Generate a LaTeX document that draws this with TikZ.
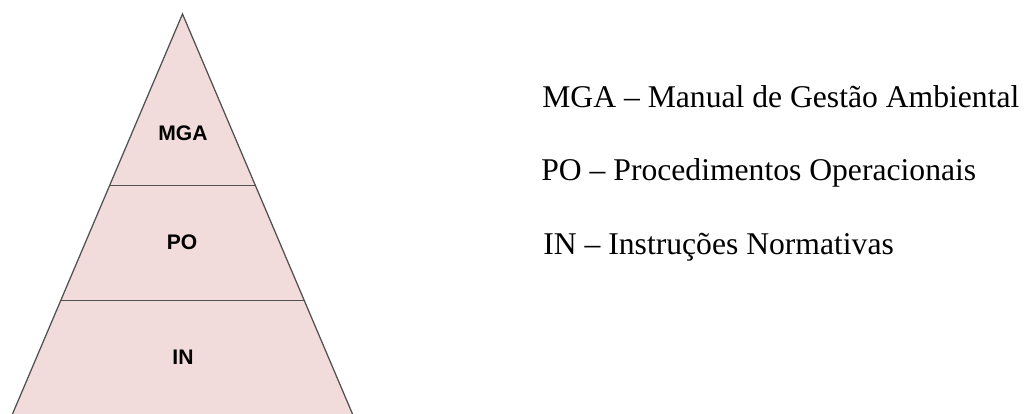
\documentclass[tikz,border=0pt]{standalone}
\usepackage{fontspec}
\setmainfont{Liberation Serif}
\setsansfont{Liberation Sans}
\usepackage{xcolor}
\usetikzlibrary{calc}
\definecolor{pyrfill}{HTML}{F2DCDB}
\definecolor{pyrline}{HTML}{505050}

\begin{document}
\begin{tikzpicture}[x=0.2mm,y=-0.2mm]
\useasboundingbox (0,0) rectangle (1026,414);

\coordinate (top) at (182.5,14);
\coordinate (bl) at (12.5,414);
\coordinate (br) at (352.5,414);

\fill[pyrfill] (top) -- (bl) -- (br) -- cycle;
\draw[pyrline,line width=0.25mm] (bl) -- (top) -- (br);

% dividing lines
\draw[pyrline,line width=0.2mm] ($(top)!0.43!(bl)$) -- ($(top)!0.43!(br)$);
\draw[pyrline,line width=0.2mm] ($(top)!0.7175!(bl)$) -- ($(top)!0.7175!(br)$);

\begin{scope}[font=\sffamily\bfseries\fontsize{12}{14}\selectfont]
\node (mga) at (183,133) {MGA};
\node (po) at (182,242) {PO};
\node (in) at (183,357) {IN};
\end{scope}

\begin{scope}[font=\fontsize{18}{20}\selectfont,inner sep=0pt]
\node[anchor=base west] (mgatxt) at (542,108) {MGA -- Manual de Gestão Ambiental};
\node[anchor=base west] (potxt) at (541,181) {PO -- Procedimentos Operacionais};
\node[anchor=base west] (intxt) at (543,255) {IN -- Instruções Normativas};
\end{scope}

\end{tikzpicture}
\end{document}
